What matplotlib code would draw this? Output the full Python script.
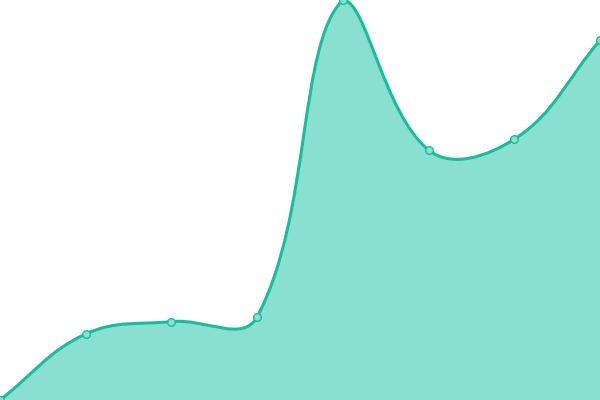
import numpy as np
import matplotlib
matplotlib.use("Agg")
import matplotlib.pyplot as plt
from matplotlib.path import Path
from matplotlib.patches import PathPatch

# values (y axis 0..100)
labels = ["1", "2", "3", "4", "5", "6", "7", "8"]
values = [0, 16.5, 19.6, 20.8, 100, 62.5, 65.2, 89.9]

LINE = "#1abc9c"
FILL = "#8ae0d0"
W, H = 600, 400
YMAX = 100.0
TENSION = 0.4


def spline_controls(pts, t):
    # chart.js style spline control points, in pixel space
    n = len(pts)
    ctrl = []
    for i in range(n):
        cur = pts[i]
        prev = pts[i - 1] if i > 0 else cur
        nxt = pts[i + 1] if i < n - 1 else cur
        d01 = np.hypot(*(cur - prev))
        d12 = np.hypot(*(nxt - cur))
        tot = d01 + d12
        s01 = d01 / tot if tot else 0
        s12 = d12 / tot if tot else 0
        cp_prev = cur - t * s01 * (nxt - prev)
        cp_next = cur + t * s12 * (nxt - prev)
        cp_prev = np.clip(cp_prev, [0, 0], [W, H])
        cp_next = np.clip(cp_next, [0, 0], [W, H])
        ctrl.append((cp_prev, cp_next))
    return ctrl


xs = np.arange(len(values))
px = xs * W / (len(values) - 1)
py = np.array(values) * H / YMAX
pts = np.column_stack([px, py])
ctrl = spline_controls(pts, TENSION)

verts = [pts[0]]
codes = [Path.MOVETO]
for i in range(1, len(pts)):
    verts += [ctrl[i - 1][1], ctrl[i][0], pts[i]]
    codes += [Path.CURVE4] * 3

# back to data coords
to_data = np.array([(len(values) - 1) / W, YMAX / H])
verts = [v * to_data for v in verts]

fig = plt.figure(figsize=(6, 4), dpi=100)
ax = fig.add_axes([0, 0, 1, 1])
ax.set_xlim(0, len(values) - 1)
ax.set_ylim(0, YMAX)
ax.axis("off")

fill_verts = verts + [(xs[-1], 0), (0, 0), verts[0]]
fill_codes = codes + [Path.LINETO, Path.LINETO, Path.CLOSEPOLY]
ax.add_patch(PathPatch(Path(fill_verts, fill_codes), facecolor=FILL, edgecolor="none"))
ax.add_patch(PathPatch(Path(verts, codes), facecolor="none", edgecolor=LINE, lw=2.2,
                       capstyle="round", joinstyle="round"))
ax.scatter(xs, values, s=30, facecolor=FILL, edgecolor=LINE, linewidth=1, zorder=3,
           clip_on=False)

fig.savefig("out.png", dpi=100)
